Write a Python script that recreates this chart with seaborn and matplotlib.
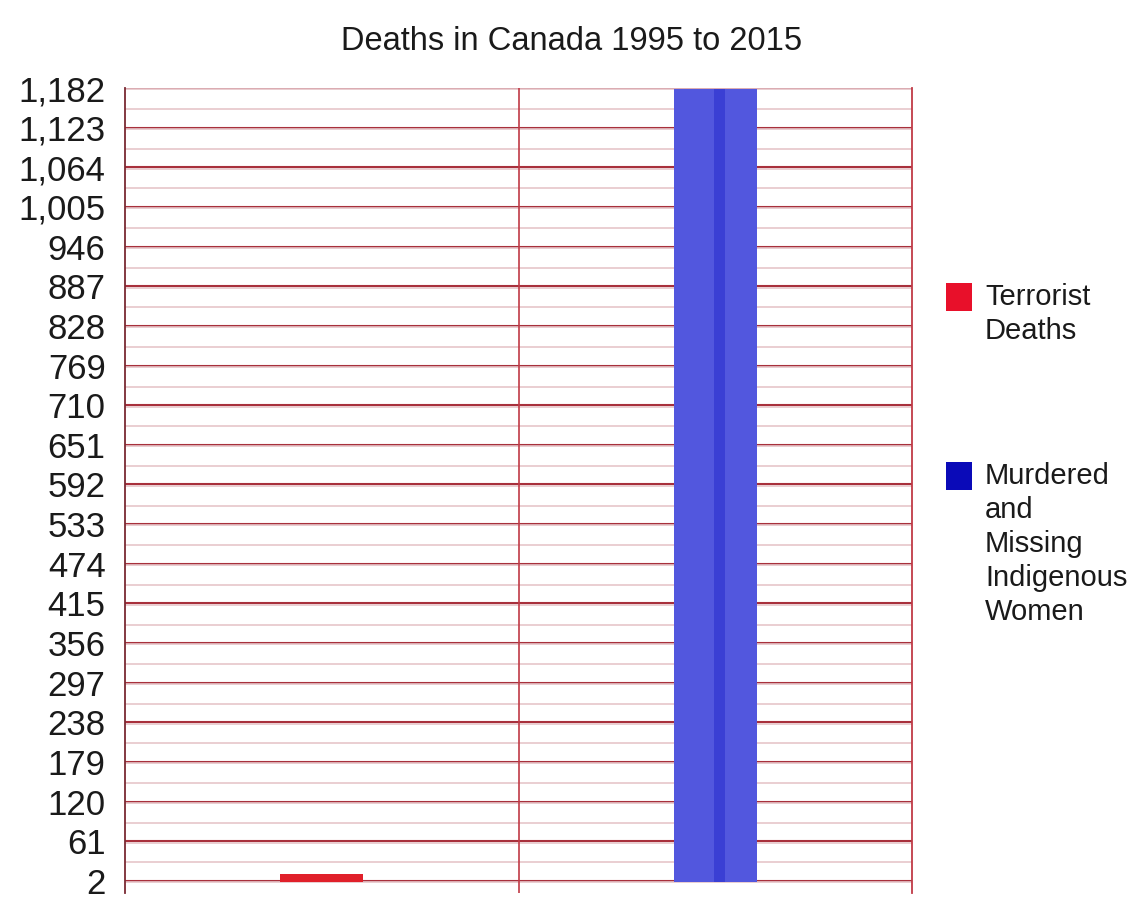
import matplotlib
matplotlib.use("Agg")
import matplotlib.pyplot as plt
import seaborn as sns
import pandas as pd
from matplotlib.ticker import MultipleLocator, FuncFormatter
from matplotlib.patches import Rectangle

categories = ["Terrorist Deaths", "Murdered and Missing Indigenous Women"]
deaths = [12, 1181]
legend_labels = ["Terrorist\nDeaths", "Murdered\nand\nMissing\nIndigenous\nWomen"]
bar_colors = ["#e0202a", "#5257de"]
legend_colors = ["#e8102a", "#0a0ab8"]
yticks = [2, 61, 120, 179, 238, 297, 356, 415, 474, 533, 592, 651, 710,
          769, 828, 887, 946, 1005, 1064, 1123, 1182]

df = pd.DataFrame({"cat": categories, "deaths": deaths})

sns.set_style("white")
plt.rcParams["font.family"] = ["Liberation Sans", "DejaVu Sans"]

W, H = 1134, 897
fig = plt.figure(figsize=(W / 100, H / 100), dpi=100)
ax = fig.add_axes([125 / W, 4 / H, 787 / W, 805 / H])

sns.barplot(data=df, x="cat", y="deaths", hue="cat", palette=bar_colors,
            saturation=1, width=0.21, legend=False, ax=ax, zorder=3,
            edgecolor="none", linewidth=0)
# darker stroke down the right side of the blue bar
ax.bar([1.01], [deaths[1]], width=0.028, color="#3a3fd4", zorder=4,
       edgecolor="none", linewidth=0)

ax.set_xlim(-0.5, 1.5)
ax.set_ylim(-16, 1182)
ax.set_yticks(yticks)
ax.yaxis.set_major_formatter(FuncFormatter(lambda v, p: f"{int(v):,}"))
ax.yaxis.set_minor_locator(MultipleLocator(29.5))
ax.set_xticks([])
ax.tick_params(axis="y", which="major", length=10, width=1.3, color="#7a2a33",
               labelsize=25, pad=4, labelcolor="#1a1a1a")
ax.tick_params(axis="y", which="minor", length=0)

ax.grid(axis="y", which="minor", color="#e6c6ca", linewidth=1.2, zorder=1)
ax.grid(axis="y", which="major", color="#a8303c", linewidth=1.5, zorder=1)
ax.axvline(0.5, color="#c03a46", linewidth=1.2, zorder=2)
ax.set_axisbelow(True)

for side in ["top", "bottom"]:
    ax.spines[side].set_visible(False)
ax.spines["left"].set_color("#7a2a33")
ax.spines["right"].set_color("#c03a46")
for side in ["left", "right"]:
    ax.spines[side].set_linewidth(1.3)

ax.set_xlabel("")
ax.set_ylabel("")

fig.text(572 / W, 1 - 41 / H, "Deaths in Canada 1995 to 2015", ha="center",
         va="center", fontsize=23.5, color="#1a1a1a")

# legend: square beside the first line of each label
legend_tops = [283, 462]
for lab, col, top in zip(legend_labels, legend_colors, legend_tops):
    fig.patches.append(Rectangle((946 / W, 1 - (top + 28) / H), 26 / W, 28 / H,
                                 transform=fig.transFigure, facecolor=col,
                                 edgecolor="none"))
    fig.text(985 / W, 1 - top / H, lab, ha="left", va="top", fontsize=21,
             color="#1a1a1a", linespacing=1.27)

fig.savefig("out.png", dpi=100)
